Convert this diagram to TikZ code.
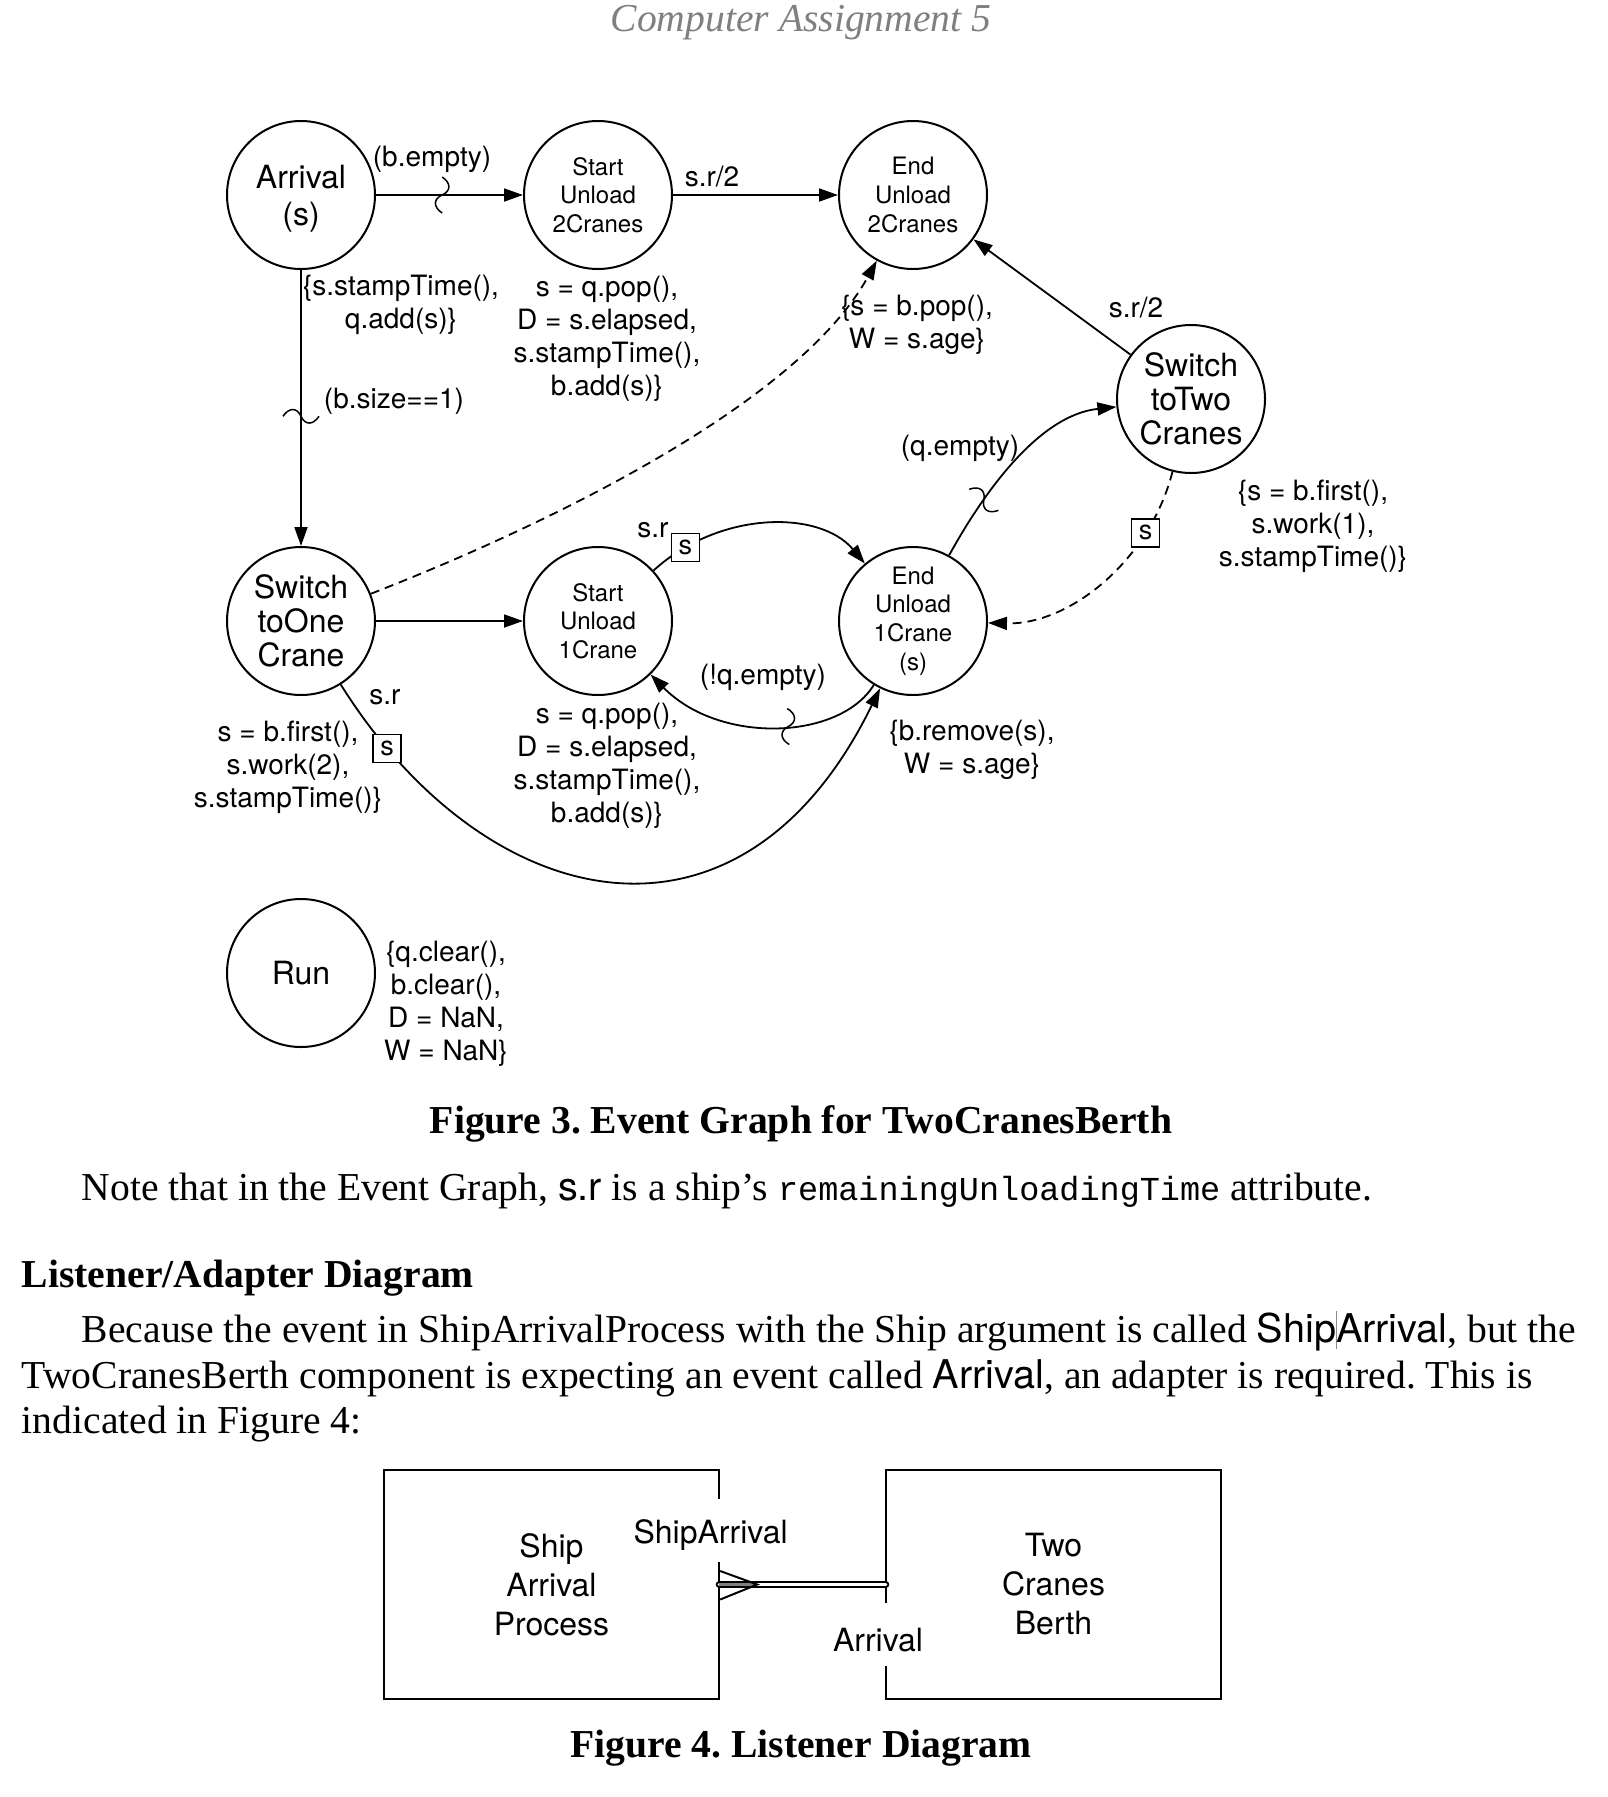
\documentclass[tikz,border=0pt]{standalone}
\usepackage{fontspec}
\setmainfont{Liberation Serif}
\newfontfamily\hv{TeX Gyre Heros}
\newfontfamily\cour{Liberation Mono}
\usetikzlibrary{arrows.meta}

\tikzset{
  ev/.style={circle, draw, line width=2pt, minimum size=148pt, inner sep=0pt, align=center, font=\hv\fontsize{32}{34}\selectfont},
  evs/.style={ev, font=\hv\fontsize{24}{28.7}\selectfont},
  lbl/.style={align=center, inner sep=0pt, font=\hv\fontsize{28}{33}\selectfont},
  sbox/.style={draw, solid, line width=1.5pt, fill=white, minimum size=28pt, inner sep=0pt, font=\hv\fontsize{27}{27}\selectfont},
  edge/.style={line width=1.8pt, -{Triangle[length=19pt,width=13pt]}},
  dsh/.style={dash pattern=on 9pt off 6pt},
  squig/.pic={\draw[-, solid, line width=1.5pt] (0,-18) .. controls (9,-12) and (9,-4) .. (0,0) .. controls (-9,4) and (-9,12) .. (0,18);},
  body/.style={inner sep=0pt, anchor=base west, font=\frenchspacing\fontsize{39.6}{45.3}\selectfont},
  f4/.style={inner sep=0pt, align=center, font=\hv\fontsize{32}{39}\selectfont},
  f4box/.style={f4, minimum width=335pt, minimum height=229pt},
  capt/.style={inner sep=0pt, anchor=base, font=\frenchspacing\bfseries\fontsize{39.6}{45.3}\selectfont},
}

\begin{document}
\begin{tikzpicture}[x=1pt,y=-1pt]
\path[use as bounding box, fill=white] (0,0) rectangle (1608,1797);

% header
\node[inner sep=0pt, anchor=base, text=black!50, font=\itshape\fontsize{39.6}{45}\selectfont] (hdr) at (801,31.7) {Computer Assignment 5};

% events
\node[ev, font=\hv\fontsize{32}{37}\selectfont, text depth=0pt] (arr) at (301,195) {Arrival\\(s)};
\node[evs] (su2) at (598,195) {Start\\Unload\\2Cranes};
\node[evs] (eu2) at (913,195) {End\\Unload\\2Cranes};
\node[ev]  (stt) at (1191,399) {Switch\\toTwo\\Cranes};
\node[ev]  (sto) at (301,621) {Switch\\toOne\\Crane};
\node[evs] (su1) at (598,621) {Start\\Unload\\1Crane};
\node[evs] (eu1) at (913,621) {End\\Unload\\1Crane\\(s)};
\node[ev]  (run) at (301,973) {Run};

% edges
\draw[edge] (arr) -- (su2) pic[pos=0.45,sloped]{squig};
\draw[edge] (su2) -- (eu2);
\draw[edge] (arr) -- (sto) pic[pos=0.53,sloped]{squig};
\draw[edge] (stt) -- (eu2);
\draw[edge,dsh] (sto) .. controls (560,520) and (800,400) .. (eu2);
\draw[edge,dsh] (stt) .. controls (1150,560) and (1070,625) .. (eu1) node[sbox,pos=0.25] (b1) {s};
\draw[edge] (eu1) .. controls (985,490) and (1040,415) .. (stt) pic[pos=0.28,sloped]{squig};
\draw[edge] (su1) .. controls (720,510) and (820,510) .. (eu1) node[sbox,pos=0.15] (b2) {s};
\draw[edge] (eu1) .. controls (840,740) and (720,745) .. (su1) pic[pos=0.45,sloped]{squig};
\draw[edge] (sto) -- (su1);
\draw[edge] (sto) .. controls (485,915) and (740,975) .. (eu1) node[sbox,pos=0.1] (b3) {s};

% labels
\node[lbl] (l1) at (432,159) {(b.empty)};
\node[lbl] (l2) at (712,177) {s.r/2};
\node[lbl] (l3) at (401,305) {\{s.stampTime(),\\q.add(s)\}};
\node[lbl] (l4) at (394,401) {(b.size==1)};
\node[lbl] (l5) at (607,339) {s = q.pop(),\\D = s.elapsed,\\s.stampTime(),\\b.add(s)\}};
\node[lbl] (l6) at (917,325) {\{s = b.pop(),\\W = s.age\}};
\node[lbl] (l7) at (1136,308) {s.r/2};
\node[lbl] (l8) at (960,448) {(q.empty)};
\node[lbl] (l9) at (1313,526) {\{s = b.first(),\\s.work(1),\\s.stampTime()\}};
\node[lbl] (l10) at (653,530) {s.r};
\node[lbl] (l11) at (763,677) {(!q.empty)};
\node[lbl] (l12) at (385,697) {s.r};
\node[lbl] (l13) at (288,767) {s = b.first(),\\s.work(2),\\s.stampTime()\}};
\node[lbl] (l14) at (607,766) {s = q.pop(),\\D = s.elapsed,\\s.stampTime(),\\b.add(s)\}};
\node[lbl] (l15) at (972,750) {\{b.remove(s),\\W = s.age\}};
\node[lbl] (l16) at (446,1004) {\{q.clear(),\\b.clear(),\\D = NaN,\\W = NaN\}};

% captions and text
\node[capt] (cap3) at (801,1133) {Figure 3. Event Graph for TwoCranesBerth};
\node[body] (note) at (81.7,1200) {Note that in the Event Graph, {\hv s.r} is a ship’s {\cour\fontsize{33.5}{40}\selectfont remainingUnloadingTime} attribute.};
\node[body, font=\bfseries\fontsize{39.6}{45.3}\selectfont] (head) at (21.7,1287) {Listener/Adapter Diagram};
\node[body] (p1) at (81.7,1342) {Because the event in ShipArrivalProcess with the Ship argument is called {\hv Ship\hbox to 0pt{\hss\textcolor{black!45}{\rule[-7pt]{1pt}{38pt}}\hss}Arrival}, but the};
\node[body] (p2) at (21.7,1388) {TwoCranesBerth component is expecting an event called {\hv Arrival}, an adapter is required. This is};
\node[body] (p3) at (21.7,1433) {indicated in Figure 4:};

% figure 4
\node[f4box] (sap) at (551.5,1584.5) {Ship\\Arrival\\Process};
\node[f4box] (tcb) at (1053.5,1584.5) {Two\\Cranes\\Berth};
\draw[line width=2.5pt] (719,1499) -- (719,1470) -- (384,1470) -- (384,1699) -- (719,1699) -- (719,1562);
\draw[line width=2.5pt] (886,1603) -- (886,1470) -- (1221,1470) -- (1221,1699) -- (886,1699) -- (886,1666);
\draw[line width=2pt, double=white, double distance=3pt, line cap=round] (sap.east) -- (tcb.west);
\draw[black!50, line width=3pt] (sap.east) -- ++(38,0);
\draw[line width=2pt] (sap.east) ++(1,-13.5) -- ++(37,13.5) -- ++(-37,15);
\node[f4] (sa) at (710.6,1535) {ShipArrival};
\node[f4] (ar) at (878,1640) {Arrival};
\node[capt] (cap4) at (801,1757) {Figure 4. Listener Diagram};
\end{tikzpicture}
\end{document}
